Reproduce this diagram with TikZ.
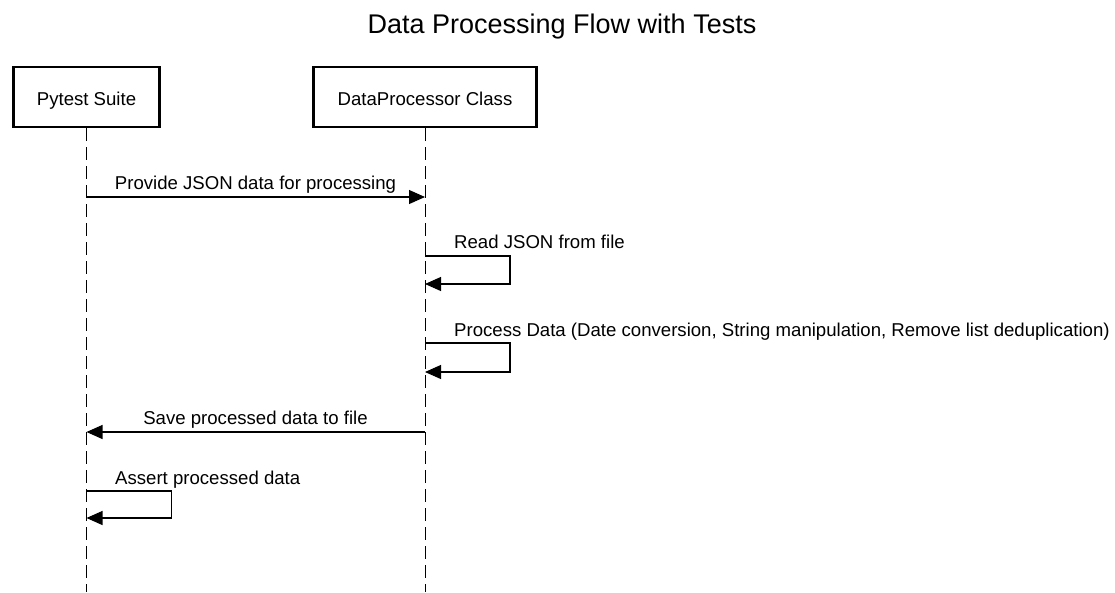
\documentclass[tikz,border=0pt]{standalone}
\usepackage{fontspec}
\setmainfont{Liberation Sans}
\usetikzlibrary{arrows.meta}
\begin{document}
\begin{tikzpicture}[x=1pt,y=-1pt,
  actor/.style={draw, line width=2.4pt, minimum width=146pt, minimum height=60pt, inner sep=0pt, font=\fontsize{18.6}{22}\selectfont},
  lifeline/.style={line width=1pt, dash pattern=on 13pt off 6pt},
  msg/.style={line width=1.1pt, -{Triangle[length=16pt,width=14pt]}},
  lbl/.style={font=\fontsize{18.6}{22}\selectfont, inner sep=0pt}]
\useasboundingbox (0,0) rectangle (1115,592);
\fill[white] (0,0) rectangle (1115,592);
\node[font=\fontsize{27}{32}\selectfont, inner sep=0pt, anchor=base] (title) at (562,33) {Data Processing Flow with Tests};
\node[actor] (ps) at (86.5,97) {};
\node[actor, minimum width=223pt] (dp) at (425,97) {};
\node[lbl, anchor=base] (pst) at (86.5,105) {Pytest Suite};
\node[lbl, anchor=base] (dpt) at (425,105) {DataProcessor Class};
\coordinate (psend) at (86.5,592);
\coordinate (dpend) at (425,592);
\draw[lifeline] (ps.south) -- (psend);
\draw[lifeline] (dp.south) -- (dpend);
% message 1
\coordinate (m1a) at (86.5,197);
\coordinate (m1b) at (425,197);
\draw[msg] (m1a) -- (m1b);
\node[lbl, anchor=base] (l1) at (255.5,189) {Provide JSON data for processing};
% self 1
\coordinate (s1a) at (425,256);
\coordinate (s1b) at (425,284);
\draw[msg] (s1a) -- ++(85,0) |- (s1b);
\node[lbl, anchor=base west] (l2) at (454,248) {Read JSON from file};
% self 2
\coordinate (s2a) at (425,343);
\coordinate (s2b) at (425,372);
\draw[msg] (s2a) -- ++(85,0) |- (s2b);
\node[lbl, anchor=base west] (l3) at (454,336) {Process Data (Date conversion, String manipulation, Remove list deduplication)};
% message 3
\coordinate (m3a) at (425,432);
\coordinate (m3b) at (86.5,432);
\draw[msg] (m3a) -- (m3b);
\node[lbl, anchor=base] (l4) at (255.5,424) {Save processed data to file};
% self 3
\coordinate (s3a) at (86.5,491);
\coordinate (s3b) at (86.5,518);
\draw[msg] (s3a) -- ++(85,0) |- (s3b);
\node[lbl, anchor=base west] (l5) at (115,484) {Assert processed data};
\end{tikzpicture}
\end{document}
